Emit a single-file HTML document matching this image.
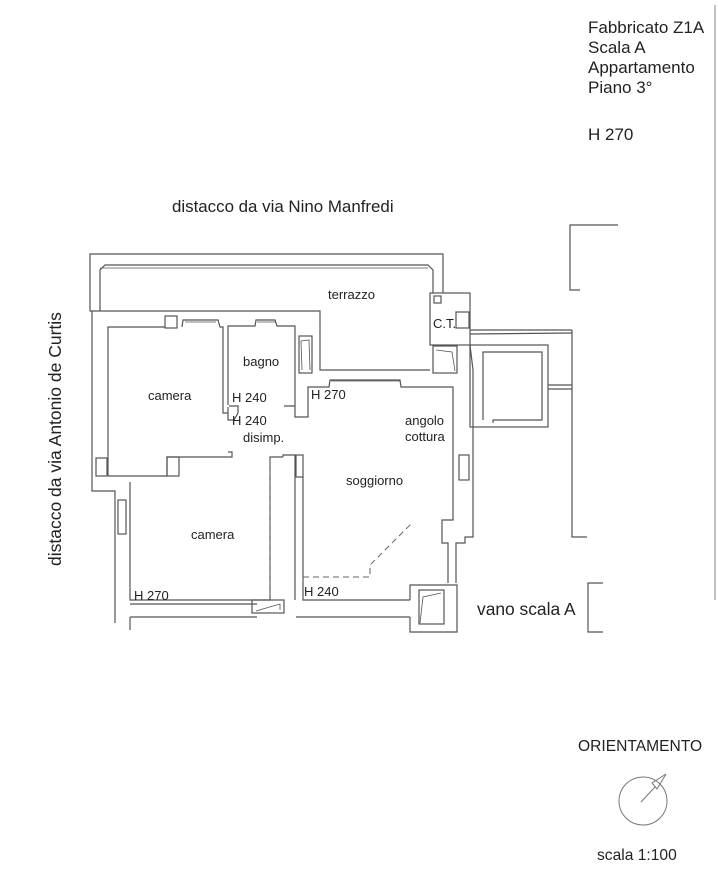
<!DOCTYPE html>
<html><head><meta charset="utf-8"><style>
html,body{margin:0;padding:0;background:#fff;}
svg{display:block;}
text{font-family:"Liberation Sans",sans-serif;fill:#222;}
</style></head><body>
<svg width="718" height="871" viewBox="0 0 718 871" xmlns="http://www.w3.org/2000/svg">
<g fill="none" stroke="#555" stroke-width="1.2">
<line x1="715" y1="5" x2="715" y2="600" stroke="#999"/>
<polyline points="92,311 90,311 90,254 443,254 443,293"/>
<polyline points="100,311 100,270 105,265 428,265 433,270 433,293"/>
<line x1="100" y1="268" x2="428" y2="268" stroke-width="0.8"/>
<polyline points="92,311 320,311 320,370 430,370"/>
<polyline points="92,311 92,491 115,491 115,623"/>
<rect x="430" y="293" width="40" height="52"/>
<rect x="434" y="296" width="7" height="7"/>
<rect x="456" y="312" width="13" height="16"/>
<rect x="433" y="346" width="24" height="27"/>
<polyline points="108,476 108,327 165,327"/>
<rect x="165" y="316" width="12" height="12"/>
<polyline points="182,327 183,320 218,320 220,327 223,327 223,413 228,413 228,407"/>
<line x1="185" y1="322" x2="216" y2="322" stroke-width="0.8"/>
<polyline points="108,476 167,476 167,457 232,457 232,452 228,452"/>
<rect x="96" y="458" width="11" height="18"/>
<rect x="167" y="457" width="12" height="19"/>
<polyline points="228,405 228,326 255,326 256,320 275,320 277,326 295,326 295,406 284,406"/>
<line x1="257" y1="322" x2="275" y2="322" stroke-width="0.8"/>
<polyline points="228,413 228,420 234,420 238,413 238,406 229,406"/>
<rect x="299" y="336" width="13" height="37"/>
<polyline points="295,406 295,417 308,417 308,387 329,387 330,380 400,380 401,387 453,387 453,520 442,520 442,543 448,543 448,583"/>
<line x1="331" y1="381" x2="400" y2="381" stroke-width="0.8"/>
<rect x="459" y="455" width="10" height="25"/>
<polyline points="470,345 473,370 473,537 465,537 465,543 456,543 456,583"/>
<polyline points="130,482 130,600 270,600 270,457 283,457"/>
<rect x="118" y="500" width="8" height="34"/>
<polyline points="283,457 283,455 295,455 295,600"/>
<rect x="296" y="455" width="7" height="22"/>
<polyline points="303,477 303,600 410,600"/>
<line x1="130" y1="604" x2="257" y2="604"/>
<line x1="130" y1="617" x2="257" y2="617"/>
<line x1="296" y1="617" x2="410" y2="617"/>
<line x1="130" y1="617" x2="130" y2="630"/>
<rect x="252" y="600" width="32" height="13"/>
<polyline points="256,611 280,604 280,610" stroke-width="0.8"/>
<polyline points="410,600 410,585 457,585 457,632 410,632 410,617"/>
<rect x="419" y="590" width="25" height="34"/>
<polyline points="420,623 423,597 441,593" stroke-width="0.8"/>
<line x1="470" y1="330" x2="572" y2="330"/>
<line x1="470" y1="334" x2="572" y2="333"/>
<rect x="470" y="345" width="78" height="82"/>
<polyline points="483,420 483,352 542,352 542,420 493,420 493,423"/>
<line x1="548" y1="385" x2="572" y2="385"/>
<line x1="548" y1="389" x2="572" y2="389"/>
<polyline points="618,225 570,225 570,290 580,290"/>
<polyline points="572,330 572,537 587,537"/>
<polyline points="603,583 588,583 588,632 603,632"/>
<polyline points="302,370 301,341 309,340 310,370" stroke-width="0.8"/>
<polyline points="436,350 452,352 455,371" stroke-width="0.8"/>
</g>
<g fill="none" stroke="#666" stroke-width="1" stroke-dasharray="6,4">
<line x1="270" y1="460" x2="270" y2="600"/>
<polyline points="303,577 370,577 370,565 413,522"/>
</g>
<g fill="none" stroke="#777" stroke-width="1">
<circle cx="643" cy="801" r="24"/>
<line x1="641" y1="802" x2="655" y2="787"/>
<polygon points="666,774 652,783 657,789"/>
</g>
<g font-size="17">
<text x="588" y="33">Fabbricato Z1A</text>
<text x="588" y="53">Scala A</text>
<text x="588" y="73">Appartamento</text>
<text x="588" y="93">Piano 3°</text>
<text x="588" y="140">H 270</text>
</g>
<text x="172" y="212" font-size="16.9">distacco da via Nino Manfredi</text>
<text transform="translate(61,566) rotate(-90)" font-size="17.5">distacco da via Antonio de Curtis</text>
<text x="477" y="615" font-size="17.4">vano scala A</text>
<text x="578" y="751" font-size="15.6">ORIENTAMENTO</text>
<text x="597" y="860" font-size="15.6">scala 1:100</text>
<g font-size="13">
<text x="328" y="299">terrazzo</text>
<text x="433" y="328">C.T.</text>
<text x="243" y="366">bagno</text>
<text x="148" y="400">camera</text>
<text x="232" y="402">H 240</text>
<text x="311" y="399">H 270</text>
<text x="232" y="425">H 240</text>
<text x="243" y="442">disimp.</text>
<text x="405" y="425">angolo</text>
<text x="405" y="441">cottura</text>
<text x="346" y="485">soggiorno</text>
<text x="191" y="539">camera</text>
<text x="134" y="600">H 270</text>
<text x="304" y="596">H 240</text>
</g>
</svg>
</body></html>
